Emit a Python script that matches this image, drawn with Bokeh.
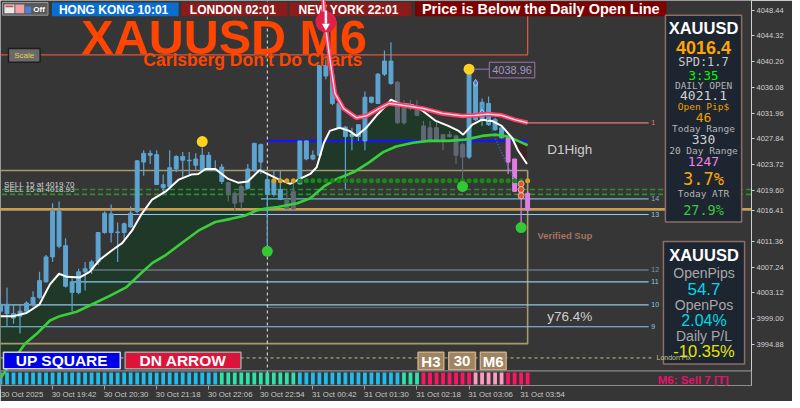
import numpy as np
from bokeh.plotting import figure
from bokeh.models import (Range1d, FixedTicker, NumeralTickFormatter, Label,
                          BoxAnnotation, ColumnDataSource, LinearAxis)
from bokeh.core.properties import value
from bokeh.embed import file_html
from bokeh.resources import INLINE

# ---------------------------------------------------------------- data
opens = [4000.2, 4001.3, 3999.8, 3999.4, 4000.2, 4001.3, 4002.4, 4004.9, 4008.9, 4016.2,
         4010.7, 4004.9, 4003.2, 4006.5, 4007.0, 4008.1, 4012.8, 4015.8, 4012.8, 4012.8,
         4013.7, 4016.2, 4024.1, 4025.5, 4025.3, 4020.5, 4020.2, 4023.0, 4025.0, 4024.4,
         4023.6, 4022.8, 4025.2, 4022.8, 4023.3, 4020.8, 4019.1, 4017.7, 4019.9, 4022.8,
         4026.9, 4021.3, 4018.9, 4019.7, 4018.1, 4016.6, 4020.6, 4027.5, 4024.6, 4025.2,
         4039.6, 4038.0, 4033.5, 4029.7, 4028.2, 4028.2, 4027.5, 4034.5, 4033.5, 4038.2,
         4040.3, 4036.9, 4030.4, 4033.2, 4032.7, 4029.9, 4027.5, 4029.6, 4027.5, 4028.5,
         4028.3, 4026.9, 4024.9, 4036.7, 4030.9, 4033.5, 4030.9, 4029.6, 4028.0, 4024.6,
         4019.5, 4019.1]
highs = [4002.1, 4004.0, 4001.3, 4001.3, 4001.8, 4003.4, 4006.5, 4009.2, 4017.5, 4017.8,
         4011.9, 4005.6, 4007.0, 4008.1, 4008.4, 4012.8, 4016.2, 4017.3, 4014.4, 4014.4,
         4017.0, 4024.4, 4026.0, 4026.0, 4026.0, 4022.1, 4026.0, 4025.2, 4025.7, 4025.7,
         4025.5, 4026.5, 4025.7, 4024.4, 4023.8, 4021.0, 4019.4, 4020.5, 4023.8, 4027.2,
         4027.1, 4022.2, 4022.8, 4022.8, 4019.7, 4021.0, 4027.5, 4027.6, 4026.0, 4039.6,
         4040.6, 4038.2, 4033.8, 4029.9, 4029.6, 4030.2, 4035.4, 4034.6, 4038.4, 4042.0,
         4043.3, 4037.1, 4034.0, 4034.0, 4034.0, 4030.7, 4030.7, 4030.7, 4028.6, 4029.1,
         4028.5, 4027.2, 4039.5, 4037.1, 4034.3, 4034.6, 4031.2, 4029.9, 4028.0, 4024.6,
         4021.3, 4019.4]
lows = [3999.8, 3997.7, 3998.2, 3996.6, 3999.8, 4000.9, 4002.1, 4004.8, 4008.1, 4010.3,
        4004.0, 4000.2, 4002.9, 4003.5, 4006.2, 4007.6, 4012.6, 4011.2, 4008.1, 4011.7,
        4013.6, 4015.9, 4021.9, 4023.8, 4020.5, 4019.1, 4019.7, 4022.5, 4021.7, 4022.2,
        4022.8, 4022.8, 4022.7, 4022.7, 4020.6, 4017.8, 4016.2, 4016.6, 4019.7, 4022.5,
        4022.2, 4010.8, 4018.6, 4018.1, 4016.6, 4016.4, 4020.5, 4024.4, 4024.4, 4024.9,
        4037.4, 4033.2, 4029.4, 4019.7, 4026.0, 4027.5, 4026.0, 4033.5, 4033.4, 4037.9,
        4036.5, 4030.2, 4030.1, 4032.4, 4031.5, 4027.2, 4027.2, 4027.4, 4026.0, 4028.0,
        4023.8, 4020.2, 4024.6, 4030.7, 4029.9, 4029.9, 4029.1, 4027.9, 4022.2, 4019.4,
        4013.4, 4016.4]
closes = [4001.3, 3999.8, 3999.1, 4000.2, 4001.5, 4002.4, 4005.1, 4008.9, 4016.2, 4010.6,
          4004.2, 4003.2, 4006.5, 4007.0, 4008.1, 4012.8, 4015.9, 4012.8, 4012.9, 4014.2,
          4015.9, 4024.3, 4025.5, 4025.2, 4020.5, 4020.0, 4023.2, 4025.0, 4024.4, 4024.3,
          4024.6, 4025.2, 4022.8, 4023.0, 4021.0, 4019.1, 4017.5, 4020.2, 4023.0, 4027.1,
          4024.1, 4018.9, 4021.1, 4018.1, 4016.6, 4019.4, 4027.5, 4024.6, 4025.2, 4039.6,
          4037.9, 4033.5, 4029.6, 4028.2, 4028.6, 4030.1, 4034.5, 4033.7, 4038.2, 4040.3,
          4036.7, 4030.4, 4033.2, 4032.7, 4031.6, 4027.5, 4029.6, 4027.5, 4028.5, 4028.2,
          4025.2, 4024.9, 4039.3, 4030.9, 4033.7, 4030.1, 4029.3, 4028.0, 4024.1, 4019.4,
          4019.1, 4016.4]
candle_kind = ("b b b b b b b b b b  b b b b b b b b b b  b b b b b b b b b b  "
               "b b b b b g g g b b  b b b b g g b b b b  b b b b b b b b b b  "
               "b g g g g g g g g g  g g b b b b b b p p  p p").split()
strip_state = ("c " * 34 + "t " * 12 + "c " * 16 + "t " * 3 + "p " * 8 + "l " * 5 + "p " * 4).split()

time_tick_bars = [0, 8, 16, 24, 32, 40, 48, 56, 64, 72, 80]
time_tick_labels = ["30 Oct 2025", "30 Oct 19:42", "30 Oct 20:30", "30 Oct 21:18",
                    "30 Oct 22:06", "30 Oct 22:54", "31 Oct 00:42", "31 Oct 01:30",
                    "31 Oct 02:18", "31 Oct 03:06", "31 Oct 03:54"]
price_ticks = [3994.88, 3999.00, 4003.12, 4007.24, 4011.36, 4016.41, 4019.60,
               4023.72, 4027.84, 4031.96, 4036.08, 4040.20, 4044.32, 4048.44]

fast_bars = [0, 2, 4, 6, 7.6, 9, 10.2, 12.2, 13.7, 15.2, 17.2, 18.7, 20.2, 21.7, 23.3,
             25.4, 27.4, 29.3, 30.4, 31.5, 33, 35, 36.5, 38, 39.8, 41, 42.6, 44.5, 46,
             47.6, 48.6, 49.7, 50.6, 52.1, 53.6, 54.7, 56.2, 57.8, 59.3, 60, 61.2, 63.4,
             64.9, 66.9, 68.8, 70.4, 71.1, 72.5, 74, 75.5, 77, 78.6, 79.5, 80.9]
fast_prices = [3999.4, 3999.4, 3999.9, 4001.3, 4004.5, 4006.2, 4005.7, 4005.6, 4006.5,
               4008.4, 4010.0, 4011.1, 4013.1, 4015.8, 4018.1, 4019.4, 4021.3, 4022.1,
               4022.2, 4023.0, 4023.0, 4021.4, 4020.8, 4021.0, 4022.8, 4022.2, 4021.4,
               4020.6, 4021.4, 4022.2, 4023.3, 4027.2, 4029.1, 4029.6, 4029.1, 4028.3,
               4029.6, 4031.6, 4033.2, 4034.1, 4033.5, 4033.2, 4032.3, 4030.7, 4029.9,
               4029.1, 4028.5, 4030.1, 4030.9, 4030.7, 4029.9, 4028.0, 4026.0, 4023.8]
slow_bars = [0, 3.8, 5.6, 7.6, 9.1, 11.7, 14.1, 16.7, 19.3, 21.3, 23.3, 25.4, 27.8, 30.4,
             33, 35.4, 37.5, 39.5, 41, 42.6, 45.6, 47.6, 49.7, 51.7, 54.3, 56.7, 58.8,
             60.8, 63.4, 65.8, 68.8, 71.4, 74, 76, 78, 79.5, 81]
slow_prices = [3989.5, 3995.0, 3996.6, 3998.7, 3999.4, 4000.1, 4001.3, 4002.6, 4004.0,
               4006.0, 4007.9, 4009.2, 4011.1, 4013.1, 4014.5, 4015.0, 4015.5, 4016.4,
               4016.7, 4016.9, 4017.5, 4018.3, 4020.2, 4021.4, 4022.5, 4024.1, 4025.7,
               4026.6, 4027.2, 4027.5, 4027.5, 4027.7, 4028.3, 4028.5, 4028.2, 4027.5,
               4026.8]
band_bars = [49.6, 49.8, 50.9, 51.4, 52.7, 54.7, 56.2, 58.2, 59.7, 61.9, 64.9, 67.9, 71,
             72.9, 74.9, 77, 79, 81]
band_prices = [4050.5, 4046.9, 4038.5, 4035.1, 4032.7, 4031.2, 4031.5, 4032.7, 4033.5,
               4033.2, 4032.7, 4031.9, 4031.5, 4031.6, 4031.8, 4031.6, 4030.9, 4030.4]

level_names = ["1", "14", "13", "12", "11", "10", "9"]
level_prices = [4030.4, 4018.2, 4015.7, 4006.8, 4004.9, 4001.2, 3997.7]
level_from = [81, 40, 17, 14, 11, 0, 0]

sell_labels = ["SELL 15 at 4019.70", "SELL 15 at 4018.93"]
sell_prices = [4019.70, 4018.93]
bid_price = 4016.41
orange_level = 4016.6
d1_high = 4027.5
yday_level = 4000.8
london_fix = 3992.7
zone_top, zone_bottom = 4022.76, 3995.0
range_bottom = 4041.3
dots_price = 4021.1
dot_bars = list(range(42, 82))
dot_kind = ["o"] * 4 + ["g"] * 35 + ["o"]
high_fractal_bars = [31, 72]
high_fractal_prices = [4027.4, 4039.0]
low_fractal_bars = [41, 71, 80]
low_fractal_prices = [4009.8, 4020.2, 4013.6]
trail_bars = [74.0, 76.2, 77.8, 79.0, 79.6]
trail_prices = [4033.2, 4027.5, 4023.8, 4021.3, 4020.2]
psar_bars = [73, 74]
psar_prices = [4036.8, 4032.0]
signal_bars = [80, 80, 80]
signal_prices = [4020.6, 4019.7, 4018.7]

# ---------------------------------------------------------------- figure
BG = "#363636"
SANS = "Liberation Sans"
MONO = "DejaVu Sans Mono"
X0, X1 = 0.0, 115.4
Y0, Y1 = 3988.28, 4050.01
FW, FH = 751, 385

p = figure(frame_width=FW, frame_height=FH, x_range=Range1d(X0, X1),
           y_range=Range1d(Y0, Y1), output_backend="svg", toolbar_location=None,
           y_axis_location="right", background_fill_color=BG, border_fill_color=BG,
           outline_line_color=None, min_border_left=0, min_border_top=0,
           min_border_right=41, min_border_bottom=0)
p.grid.visible = False

# tick marks axis (next to the frame)
xa = p.xaxis[0]
xa.ticker = FixedTicker(ticks=time_tick_bars)
xa.major_label_overrides = {b: "" for b in time_tick_bars}
xa.major_label_text_font_size = "0px"
xa.major_label_standoff = 0
xa.major_tick_out = 4
xa.major_tick_in = 0
xa.major_tick_line_color = "#a0a0a0"
xa.minor_tick_line_color = None
xa.axis_line_color = "#8c8c8c"

# time labels axis (labels start at their tick, MT4 style)
label_shift = 3.3
lab_pos = [b + label_shift for b in time_tick_bars]
xl = LinearAxis(ticker=FixedTicker(ticks=lab_pos),
                major_label_overrides=dict(zip(lab_pos, time_tick_labels)),
                major_label_text_font=SANS, major_label_text_font_size="7.8px",
                major_label_text_color="#c8c8c8", major_label_standoff=0,
                major_tick_out=0, major_tick_in=0, major_tick_line_color=None,
                minor_tick_line_color=None, axis_line_color=None)
p.add_layout(xl, "below")

ya = p.yaxis[0]
ya.ticker = FixedTicker(ticks=price_ticks)
ya.formatter = NumeralTickFormatter(format="0.00")
ya.major_label_text_font = SANS
ya.major_label_text_font_size = "7.5px"
ya.major_label_text_color = "#d0d0d0"
ya.major_label_standoff = 2
ya.major_tick_out = 3
ya.major_tick_in = 0
ya.major_tick_line_color = "#d0d0d0"
ya.minor_tick_line_color = None
ya.axis_line_color = "#d0d0d0"

KX = FW / 759
KY = FH / 393


def sx(x):
    return x * KX


def sy(y):
    return (393 - y) * KY


def box(x0, y0, x1, y1, fill, line=None, lw=1.0):
    p.add_layout(BoxAnnotation(left=sx(x0), right=sx(x1), top=sy(y0), bottom=sy(y1),
                               left_units="screen", right_units="screen",
                               top_units="screen", bottom_units="screen",
                               fill_color=fill, fill_alpha=1.0 if fill else 0.0,
                               line_color=line, line_width=lw,
                               line_alpha=1.0 if line else 0.0))


def txt(x, y, s, size, color, font=SANS, style="normal", align="center"):
    p.add_layout(Label(x=sx(x), y=sy(y), x_units="screen", y_units="screen", text=s,
                       text_font=font, text_font_size=f"{size}px", text_color=color,
                       text_font_style=style, text_align=align,
                       text_baseline="middle"))


# ------------------------------------------------- fill between the averages
gx = np.linspace(0, 80.9, 1200)
fw = np.interp(gx, fast_bars, fast_prices)
fs = np.interp(gx, slow_bars, slow_prices)
p.varea(x=gx, y1=fw, y2=np.where(fw > fs, fs, fw), fill_color="#1f3828")
p.varea(x=gx, y1=fs, y2=np.where(fw < fs, fw, fs), fill_color="#3e2226")

# ------------------------------------------------- horizontal levels / zones
p.quad(left=-1, right=81, top=zone_top, bottom=zone_bottom, fill_color=None,
       line_color="#a39d6c", line_width=1.6)
p.quad(left=-1, right=81, top=Y1 + 2, bottom=range_bottom, fill_color=None,
       line_color="#d9583b", line_width=1.3)

level_colors = ["#e87878", "#78b4d4", "#8cccec", "#7e98a8", "#8cc8e8", "#8cc8e8",
                "#8cc8e8"]
p.segment(x0=level_from, y0=level_prices, x1=[99.6] * len(level_prices),
          y1=level_prices, line_color=level_colors, line_width=1.2)
p.text(x=[100.0] * len(level_names), y=level_prices, text=level_names,
       text_font=value(SANS), text_font_size="7px", text_color=level_colors,
       text_baseline="middle", text_align="left")

p.segment(x0=[41], y0=[yday_level], x1=[81], y1=[yday_level], line_color="#6c6c6c",
          line_width=1)
p.segment(x0=[-1, -1], y0=sell_prices, x1=[X1 + 1] * 2, y1=sell_prices,
          line_color="#2b8f2b", line_width=1.6, line_dash="5 3")
p.segment(x0=[-1], y0=[orange_level], x1=[X1 + 1], y1=[orange_level],
          line_color="#e69a1a", line_width=1.6)
p.segment(x0=[-1], y0=[bid_price], x1=[X1 + 1], y1=[bid_price],
          line_color="#c4c4c4", line_width=1)
p.segment(x0=[0], y0=[london_fix], x1=[100.5], y1=[london_fix],
          line_color="#c8c090", line_width=1, line_dash="3 3")
p.segment(x0=[41], y0=[d1_high], x1=[81], y1=[d1_high], line_color="#1414ff",
          line_width=2.2)
p.segment(x0=[41], y0=[Y0], x1=[41], y1=[Y1], line_color="#e8e8e8", line_width=1,
          line_dash="3 3")

# ------------------------------------------------- signal strip
strip_colors = {"c": "#1ebdee", "t": "#2ee3aa", "p": "#ff1464", "l": "#ff9ac0"}
p.vbar(x=list(range(len(strip_state))), width=0.58, top=3990.35, bottom=3988.45,
       fill_color=[strip_colors[s] for s in strip_state], line_color=None)

# ------------------------------------------------- candles
kind_colors = {"b": "#5ea4d1", "g": "#5f6975", "p": "#e07ee4"}
bars = list(range(len(closes)))
src = ColumnDataSource(dict(
    x=bars, h=highs, l=lows,
    top=[max(a, b) for a, b in zip(opens, closes)],
    bottom=[min(a, b) for a, b in zip(opens, closes)],
    color=[kind_colors[k] for k in candle_kind]))
p.segment(x0="x", y0="l", x1="x", y1="h", line_color="color", line_width=1.2,
          source=src)
p.vbar(x="x", width=0.6, top="top", bottom="bottom", fill_color="color",
       line_color="color", line_width=1, source=src)

# ------------------------------------------------- indicator lines
p.line(slow_bars, slow_prices, line_color="#38d038", line_width=2.6)
p.line(fast_bars, fast_prices, line_color="#ffffff", line_width=2)
p.line(band_bars, band_prices, line_color="#ff3d68", line_width=4.5, level="overlay")
p.line(band_bars, band_prices, line_color="#ffe6ee", line_width=1.3, level="overlay")
p.line(trail_bars, trail_prices, line_color="#2f6fd6", line_width=1.6, line_dash="1 2")
p.scatter(psar_bars, psar_prices, marker="diamond", size=7, fill_color="#3f7fe0",
          line_color="#c8d8ff", line_width=0.8)

dot_colors = {"o": "#d9a020", "g": "#148c14"}
p.scatter(dot_bars, [dots_price] * len(dot_bars), size=5,
          fill_color=[dot_colors[k] for k in dot_kind], line_color=None)
p.scatter(high_fractal_bars, high_fractal_prices, size=11, fill_color="#ffd21e",
          line_color=None)
p.scatter(low_fractal_bars, low_fractal_prices, size=11, fill_color="#34c834",
          line_color=None)
p.scatter(signal_bars, signal_prices, size=6, fill_color="#e2552e", line_color="#f0c8b8",
          line_width=0.8)

# red sell arrow on the spike high
p.scatter([50], [4046.6], size=21, fill_color="#e0204a", line_color=None,
          level="overlay")
p.segment(x0=[50], y0=[4048.4], x1=[50], y1=[4046.3], line_color="white",
          line_width=2.5, level="overlay")
p.scatter([50], [4045.9], marker="inverted_triangle", size=8, fill_color="white",
          line_color=None, level="overlay")

# price tag of the last high
p.segment(x0=[72.7], y0=[4039.0], x1=[75.1], y1=[4039.0], line_color="#9a78b0",
          line_width=1)

# ------------------------------------------------- chart texts
for s, pr in zip(sell_labels, sell_prices):
    p.add_layout(Label(x=0.55, y=pr, text=s, text_font=SANS, text_font_size="8px",
                       text_color="#d2d2d2", text_baseline="bottom", y_offset=0.5))
p.add_layout(Label(x=84.0, y=4026.1, text="D1High", text_font=SANS,
                   text_font_size="13.5px", text_color="#cfcfcf",
                   text_baseline="middle"))
p.add_layout(Label(x=82.5, y=4012.3, text="Verified Sup", text_font=SANS,
                   text_font_size="9.5px", text_font_style="bold",
                   text_color="#a8725e", text_baseline="middle"))
p.add_layout(Label(x=84.0, y=3999.4, text="y76.4%", text_font=SANS,
                   text_font_size="13.5px", text_color="#cfcfcf",
                   text_baseline="middle"))

# ------------------------------------------------- header
box(2, 2, 48, 15, "#5a5a5a", "#9a9a9a")
box(4, 4, 14, 13, "#e8e8e8")
box(5, 5, 13, 7, "#d04848")
box(15, 4, 24, 13, "#f0a0a8")
box(25, 6, 31, 13, "#4a80d8")
txt(39, 9, "Off", 8, "#ffffff", style="bold")
box(52, 2, 180, 16, "#0a6ed1")
txt(116, 9.5, "HONG KONG  10:01", 12, "#ffffff", style="bold")
box(183, 2, 290, 16, "#8c1c1c")
txt(236.5, 9.5, "LONDON  02:01", 12, "#ffffff", style="bold")
box(292, 2, 415, 16, "#8c1c1c")
txt(353.5, 9.5, "NEW YORK  22:01", 12, "#ffffff", style="bold")
box(419, 1, 673, 16, "#7d0000")
txt(546, 9, "Price is Below the Daily Open Line", 14.5, "#ffffff", style="bold")

txt(226, 37, "XAUUSD M6", 48.5, "#ff4500", style="bold")
txt(255, 61, "Carlsberg Don't Do Charts", 17.5, "#ff4500", style="bold")

box(8, 49, 40, 63, "#6a6a6a", "#1e1e1e", 1.5)
txt(24, 56, "Scale", 8, "#e6d24a")

box(494, 63, 540, 79, None, "#9a78b0", 1)
txt(517, 71, "4038.96", 11, "#a494c4")

# ------------------------------------------------- info panels
box(672, 15, 749, 226, "#1c2530", "#8c6e64", 1.5)
panel1 = [("XAUUSD", 28, 16.5, "#ffffff", SANS, "bold"),
          ("4016.4", 47.5, 18, "#ffa500", SANS, "bold"),
          ("SPD:1.7", 63, 12, "#c8c8c8", MONO, "normal"),
          ("3:35", 77, 12.5, "#00ff00", MONO, "normal"),
          ("DAILY OPEN", 87, 9.5, "#b4b4b4", MONO, "normal"),
          ("4021.1", 97, 13, "#d2d2d2", MONO, "normal"),
          ("Open Pip$", 108.5, 9.5, "#f0a000", MONO, "normal"),
          ("46", 119, 13, "#f0a000", MONO, "normal"),
          ("Today Range", 130.5, 9.5, "#b4b4b4", MONO, "normal"),
          ("330", 142, 13, "#d2d2d2", MONO, "normal"),
          ("20 Day Range", 153, 9.5, "#b4b4b4", MONO, "normal"),
          ("1247", 164, 13, "#ee82ee", MONO, "normal"),
          ("3.7%", 182, 17, "#ffa500", MONO, "normal"),
          ("Today ATR", 197.5, 9.5, "#b4b4b4", MONO, "normal"),
          ("27.9%", 213.5, 13.5, "#3cc83c", MONO, "normal")]
for s, yy, size, col, font, style in panel1:
    txt(710.5, yy, s, size, col, font=font, style=style)

box(670, 246, 752, 371, "#1c2530", "#8c6e64", 1.5)
panel2 = [("XAUUSD", 260, 16.5, "#ffffff", "bold"),
          ("OpenPips", 278, 14, "#a8a8a8", "normal"),
          ("54.7", 295, 17, "#00d8e6", "normal"),
          ("OpenPos", 311, 14, "#a8a8a8", "normal"),
          ("2.04%", 327, 16, "#00d8e6", "normal"),
          ("Daily P/L", 342.5, 14, "#a8a8a8", "normal"),
          ("-10.35%", 357.5, 16.5, "#e6e600", "normal")]
for s, yy, size, col, style in panel2:
    txt(711, yy, s, size, col, style=style)

p.add_layout(Label(x=100.8, y=london_fix, text="London Fix", text_font=SANS,
                   text_font_size="7px", text_color="#c8c090", text_baseline="middle"))

# ------------------------------------------------- bottom buttons
box(3, 359, 121, 376, "#0000e6", "#d0d0ff", 1.5)
txt(62, 367.5, "UP SQUARE", 15.5, "#ffffff", style="bold")
box(126, 359, 243, 376, "#dc143c", "#a0a0a0", 1.5)
txt(184.5, 367.5, "DN ARROW", 15.5, "#ffffff", style="bold")
for x0, x1, s in [(422, 448, "H3"), (453, 480, "30"), (485, 511, "M6")]:
    box(x0, 359, x1, 377, "#a08462", "#c8ac88", 1.5)
    txt((x0 + x1) / 2, 368, s, 15, "#ffffff", style="bold")

box(0, 378, 759, 393, None, "#8c8c8c", 1.2)
txt(700, 387.5, "M6: Sell 7 [T]", 11.5, "#e8106a", style="bold")

open("out.html", "w").write(file_html(p, INLINE))
